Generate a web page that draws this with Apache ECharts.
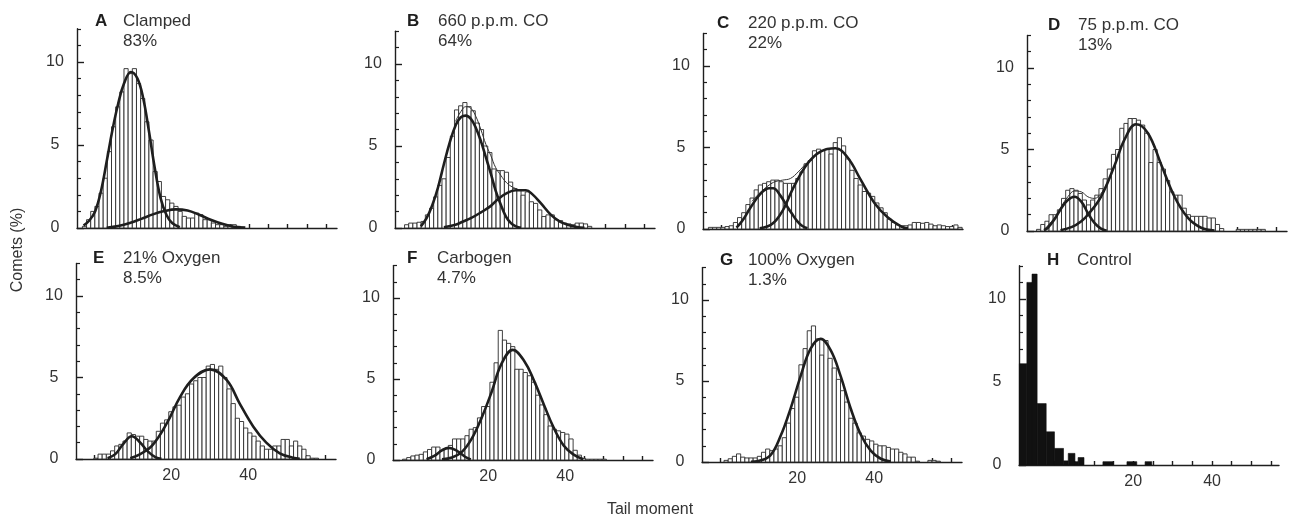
<!DOCTYPE html>
<html><head><meta charset="utf-8">
<script src="https://cdn.jsdelivr.net/npm/echarts@6/dist/echarts.min.js"></script>
<style>html,body{margin:0;padding:0;background:#fff}#c{width:1290px;height:523px}</style>
</head><body><div id="c"></div>
<script>
// ---------- DATA ----------
const panelLetters = ['A','B','C','D','E','F','G','H'];
const panelNames = ['Clamped','660 p.p.m. CO','220 p.p.m. CO','75 p.p.m. CO','21% Oxygen','Carbogen','100% Oxygen','Control'];
const panelPercents = ['83%','64%','22%','13%','8.5%','4.7%','1.3%',''];
const yTickLabels = [0,5,10];
const yMinorTicks = [1,2,3,4,6,7,8,9,11,12];
const xTicks = [0,5,10,15,20,25,30,35,40,45,50,55,60];
const xTickLabels = [20,40];
const axisTitleY = 'Comets (%)';
const axisTitleX = 'Tail moment';

// histogram bins: first bin left edge and bin width (tail-moment units)
const binStart = -3.3;
const binWidth = 1.08;
const histA = [0.1,0.5,1.0,1.3,2.1,3.0,4.6,6.1,7.3,8.2,9.6,9.3,9.6,8.7,7.8,6.4,5.3,3.4,2.8,1.9,1.7,1.5,1.3,1.0,0.7,0.6,0.6,0.9,0.8,0.5,0.5,0.3,0.2,0.2,0.1,0.2,0.2,0.1];
const histB = [0,0.2,0.3,0.3,0.35,0.4,0.8,1.2,1.9,2.6,3.0,4.3,5.6,7.2,7.45,7.65,7.4,7.15,6.4,6.0,5.0,4.6,3.6,3.5,3.5,3.4,2.8,2.4,2.3,2.0,2.2,1.6,1.5,1.1,0.7,0.8,0.8,0.5,0.45,0.3,0.25,0.2,0.3,0.3,0.25,0.1];
const histC = [0.1,0.1,0.1,0.1,0.15,0.2,0.4,0.7,1.0,1.5,1.9,2.4,2.7,2.8,2.9,3.0,3.0,2.9,2.8,2.8,2.8,3.1,3.5,4.0,4.2,4.8,4.9,4.8,4.9,4.6,5.3,5.6,5.1,4.3,3.6,3.1,2.7,2.3,2.2,2.0,1.6,1.3,1.0,0.6,0.4,0.25,0.2,0.2,0.25,0.4,0.4,0.35,0.4,0.3,0.2,0.25,0.2,0.15,0.15,0.25,0.1];
const histD = [0,0.1,0.4,0.6,1.0,1.0,1.3,2.0,2.5,2.6,2.5,2.3,1.9,1.6,1.9,2.2,2.6,3.2,3.8,4.7,5.0,6.3,6.6,6.9,6.9,6.8,6.5,6.0,4.2,5.0,4.2,3.8,3.1,2.4,2.2,2.2,1.4,1.0,0.9,0.9,0.9,0.9,0.8,0.8,0.4,0.15,0,0,0,0.1,0.1,0.1,0.1,0.1,0.1,0.1];
const histE = [0,0,0,0.05,0.3,0.3,0.3,0.5,0.8,0.9,1.1,1.6,1.5,1.4,1.4,1.2,1.1,1.1,1.7,2.2,2.4,2.9,3.2,3.3,3.8,4.0,4.6,4.8,5.0,5.0,5.7,5.8,5.5,5.7,5.0,4.3,3.4,2.5,2.3,1.9,1.6,1.4,1.1,0.8,0.6,0.6,0.8,0.8,1.2,1.2,0.8,1.1,0.8,0.6,0.2,0.05,0.05];
const histF = [0,0.05,0.15,0.25,0.3,0.35,0.5,0.65,0.8,0.8,0.6,0.7,0.9,1.3,1.3,1.3,1.5,1.9,2.0,2.6,3.3,3.3,4.8,6.0,8.0,7.4,7.2,7.0,5.6,5.6,5.4,5.2,4.8,4.0,3.4,2.8,2.1,1.9,1.8,1.7,1.6,1.3,0.6,0.3,0.1,0.05,0.05,0.05,0.05,0.05];
const histG = [0,0,0,0,0.1,0.2,0.35,0.5,0.3,0.25,0.25,0.25,0.35,0.6,0.8,0.7,0.8,1.0,1.5,2.4,3.3,4.0,6.0,7.0,8.1,8.4,7.6,6.6,7.5,6.4,5.8,5.1,4.4,3.7,2.7,2.4,1.8,1.6,1.4,1.3,1.1,1.0,1.0,0.9,0.8,0.8,0.6,0.5,0.3,0.3,0.05,0,0,0.1,0.1,0.05];
// control panel: irregular bins (left edge, right edge, height)
const histHStart  = [-8.9,-7.0,-5.7,-4.4,-2.1,0,2.3,3.5,5.2,6.0,12.3,18.4,23.0];
const histHEnd    = [-7.0,-5.7,-4.4,-2.1,0,2.3,3.5,5.2,6.0,7.5,14.9,20.9,24.7];
const histHHeight = [6.1,11.0,11.5,3.7,2.0,1.0,0.25,0.7,0.2,0.45,0.2,0.2,0.2];

// fitted curves [tail moment, %]
const fitA1 = [[-3,0.15],[-1.5,0.45],[0,1.0],[1.5,2.2],[3,4.0],[4.5,5.9],[6,7.5],[7.5,8.7],[9.3,9.4],[11,9.0],[12.5,7.8],[14,5.8],[15.5,3.6],[17,1.8],[18.5,0.8],[20,0.3],[22,0.05]];
const fitA2 = [[3,0.02],[6,0.12],[9,0.3],[12,0.55],[15,0.82],[18,1.02],[21,1.12],[24,1.05],[27,0.8],[30,0.5],[33,0.25],[36,0.08],[39,0.02]];
const fitB1 = [[2,0.1],[3.5,0.6],[5,1.4],[6.5,2.5],[8,3.9],[9.5,5.2],[11.1,6.3],[12.4,6.75],[13.7,6.85],[15,6.65],[16.3,6.1],[17.6,5.3],[18.9,4.3],[20.2,3.3],[21.4,2.3],[22.8,1.4],[24.1,0.7],[25.4,0.3],[26.7,0.1],[28,0.02]];
const fitB2 = [[8,0.05],[11,0.2],[13,0.4],[15,0.6],[17.6,0.95],[20.2,1.35],[22,1.75],[24.1,2.1],[26.7,2.3],[29.3,2.3],[31,2.05],[33.2,1.5],[35.8,0.8],[38,0.4],[40.1,0.2],[42.5,0.06],[44.5,0.01]];
const sumB  = [[11,6.5],[12.4,7.1],[13.7,7.4],[15,7.3],[16.3,6.8],[17.6,6.0],[18.9,5.1],[20.2,4.4],[21.4,3.7],[22.8,3.2],[24.1,2.8],[25.4,2.55],[26.7,2.4],[28,2.3]];
const fitC1 = [[4,0.08],[5.5,0.5],[7.6,1.3],[10.2,2.15],[12.5,2.5],[13.5,2.5],[15.4,2.05],[17.1,1.4],[18.5,0.9],[19.7,0.5],[21,0.2],[22.4,0.05]];
const fitC2 = [[10,0.05],[12,0.15],[13.7,0.4],[15.4,0.9],[16.5,1.35],[18.9,2.6],[22.4,4.0],[25.8,4.75],[29.7,4.95],[32.8,4.4],[36.3,3.0],[39.8,1.6],[43.3,0.7],[46.8,0.15],[48.5,0.05]];
const sumC  = [[8,1.7],[10.2,2.25],[12.5,2.7],[14,2.9],[16,3.0],[18,3.1],[20,3.5],[22,4.0],[24,4.45]];
const fitD1 = [[-0.3,0.05],[0.7,0.2],[2.4,0.7],[4.2,1.4],[5.9,1.9],[7.6,2.1],[9.4,1.8],[11.1,1.1],[12.8,0.5],[14.5,0.15],[16,0.02]];
const fitD2 = [[4,0.05],[7,0.25],[9.4,0.6],[11.1,1.0],[14.5,2.1],[18,4.0],[20.6,5.6],[23.6,6.55],[26.7,6.0],[30.1,4.1],[33.6,2.1],[37.1,0.8],[40.5,0.2],[44,0.03]];
const sumD  = [[0,0.15],[2.4,0.8],[4.2,1.5],[5.9,2.1],[7.6,2.45],[9.4,2.4],[11.1,2.1],[12.8,2.0],[14.5,2.3],[16,2.9]];
const fitE1 = [[3.5,0.05],[5.5,0.3],[7.5,0.9],[9.8,1.4],[12,1.0],[14,0.45],[16,0.1],[17.5,0.02]];
const fitE2 = [[9.4,0.05],[12,0.3],[15,0.8],[18.9,2.2],[22.3,3.8],[25.8,4.95],[30.1,5.5],[34.4,4.85],[37.8,3.4],[41.3,2.0],[44.7,1.0],[48.2,0.35],[51.6,0.08],[53.4,0.02]];
const fitF1 = [[4,0.05],[6,0.25],[8,0.6],[9.8,0.75],[12,0.55],[14,0.2],[15.5,0.03]];
const fitF2 = [[8,0.05],[10.6,0.15],[13.2,0.5],[15.7,1.3],[18.3,2.6],[20.9,4.2],[23.4,5.9],[26.4,6.8],[29.4,6.1],[31.9,4.9],[34.5,3.4],[37,2.0],[39.6,0.9],[42.1,0.35],[44.7,0.05]];
const fitG1 = [[8,0.02],[9.6,0.05],[13,0.4],[15.7,1.6],[18.3,3.3],[20.9,5.3],[23.5,7.0],[26.1,7.6],[28.7,6.9],[31.3,5.3],[33.9,3.3],[36.5,1.7],[39.1,0.7],[41.7,0.2],[44.3,0.03]];

// ---------- BUILD ----------
const FONT = '"Liberation Sans", Arial, Helvetica, sans-serif';
const INK = '#1e1e1e';
const hists = [histA,histB,histC,histD,histE,histF,histG];
const fits = [[fitA1,fitA2],[fitB1,fitB2],[fitC1,fitC2],[fitD1,fitD2],[fitE1,fitE2],[fitF1,fitF2],[fitG1],[]];
const sums = [null,sumB,sumC,sumD,null,null,null,null];

function binData(h){ return h.map((v,k)=>[binStart+k*binWidth, binStart+(k+1)*binWidth, v]); }
const histHData = histHHeight.map((v,i)=>[histHStart[i], histHEnd[i], v]);

const layout = [
  {left:77,  y0:228, unit:16.6, lx:95,  tx:123, ty:22},
  {left:395, y0:228, unit:16.4, lx:407, tx:438, ty:22},
  {left:703, y0:229, unit:16.3, lx:717, tx:748, ty:24},
  {left:1027,y0:231, unit:16.3, lx:1048,tx:1078,ty:26},
  {left:76,  y0:459, unit:16.3, lx:93,  tx:123, ty:259},
  {left:393, y0:460, unit:16.2, lx:407, tx:437, ty:259},
  {left:702, y0:462, unit:16.2, lx:720, tx:748, ty:261},
  {left:1019,y0:465, unit:16.6, lx:1047,tx:1077,ty:261}
];

const grid=[], xAxis=[], yAxis=[], series=[], graphic=[];
layout.forEach((L,i)=>{
  const h = L.unit*12;
  grid.push({left:L.left, top:L.y0-h, width:260, height:h, containLabel:false});
  xAxis.push({type:'value', gridIndex:i, position:'bottom', min: i<7?-4.7:-9, max: i<7?62.8:57,
    axisLine:{show:true, onZero:false, lineStyle:{color:INK, width:1.4}},
    axisTick:{show:true, inside:true, length:4, customValues:xTicks, lineStyle:{color:INK, width:1.4}},
    axisLabel:{show:i>=4, customValues:xTickLabels, fontSize:16, color:'#333', margin:9, fontFamily:FONT},
    splitLine:{show:false}});
  yAxis.push({type:'value', gridIndex:i, position:'left', min:0, max:12,
    axisLine:{show:true, onZero:false, lineStyle:{color:INK, width:1.4}},
    axisTick:{show:true, inside:true, length:7, customValues:yTickLabels, lineStyle:{color:INK, width:1.4}},
    axisLabel:{show:true, customValues:yTickLabels, fontSize:16, color:'#333', align:'center', margin:22, fontFamily:FONT},
    splitLine:{show:false}});
});
layout.forEach((L,i)=>{
  yAxis.push({type:'value', gridIndex:i, position:'left', offset:0, min:0, max:12,
    axisLine:{show:false, onZero:false},
    axisTick:{show:true, inside:true, length:4, customValues:yMinorTicks, lineStyle:{color:INK, width:1.2}},
    axisLabel:{show:false}, splitLine:{show:false}});
});

function renderBar(fill){
  return function(params, api){
    const x0 = api.value(0), x1 = api.value(1), v = api.value(2);
    if (!(v > 0)) return null;
    const p0 = api.coord([x0, 0]), p1 = api.coord([x1, v]);
    return {type:'rect', shape:{x:p0[0], y:p1[1], width:p1[0]-p0[0], height:p0[1]-p1[1]},
      style:{fill:fill, stroke:fill==='#fff'?'#2a2a2a':'#111', lineWidth:fill==='#fff'?0.9:0.6}};
  };
}

for (let i=0;i<8;i++){
  series.push({type:'custom', xAxisIndex:i, yAxisIndex:i, renderItem: renderBar(i<7?'#fff':'#111'),
    encode:{x:[0,1], y:2}, data: i<7 ? binData(hists[i]) : histHData, silent:true, z:2});
  if (sums[i]) series.push({type:'line', xAxisIndex:i, yAxisIndex:i, data:sums[i], smooth:0.4,
    symbol:'none', lineStyle:{color:'#333', width:1}, silent:true, z:3});
  fits[i].forEach(f=>series.push({type:'line', xAxisIndex:i, yAxisIndex:i, data:f, smooth:0.4,
    symbol:'none', lineStyle:{color:INK, width:2.6}, silent:true, z:4}));
  const L = layout[i];
  graphic.push({type:'text', left:L.lx, top:L.ty-9, style:{text:panelLetters[i], font:'bold 17px '+FONT, fill:INK}});
  graphic.push({type:'text', left:L.tx, top:L.ty-9, style:{text:panelNames[i], font:'17px '+FONT, fill:'#333'}});
  if (panelPercents[i]) graphic.push({type:'text', left:L.tx, top:L.ty+11, style:{text:panelPercents[i], font:'17px '+FONT, fill:'#333'}});
}
graphic.push({type:'text', x:18, y:250, rotation:Math.PI/2, style:{text:axisTitleY, font:'16px '+FONT, fill:'#333', align:'center', verticalAlign:'middle'}});
graphic.push({type:'text', x:650, y:510, style:{text:axisTitleX, font:'16px '+FONT, fill:'#333', align:'center', verticalAlign:'middle'}});

const chart = echarts.init(document.getElementById('c'), null, {renderer:'canvas'});
chart.setOption({animation:false, backgroundColor:'#fff', grid, xAxis, yAxis, series, graphic});
</script></body></html>
